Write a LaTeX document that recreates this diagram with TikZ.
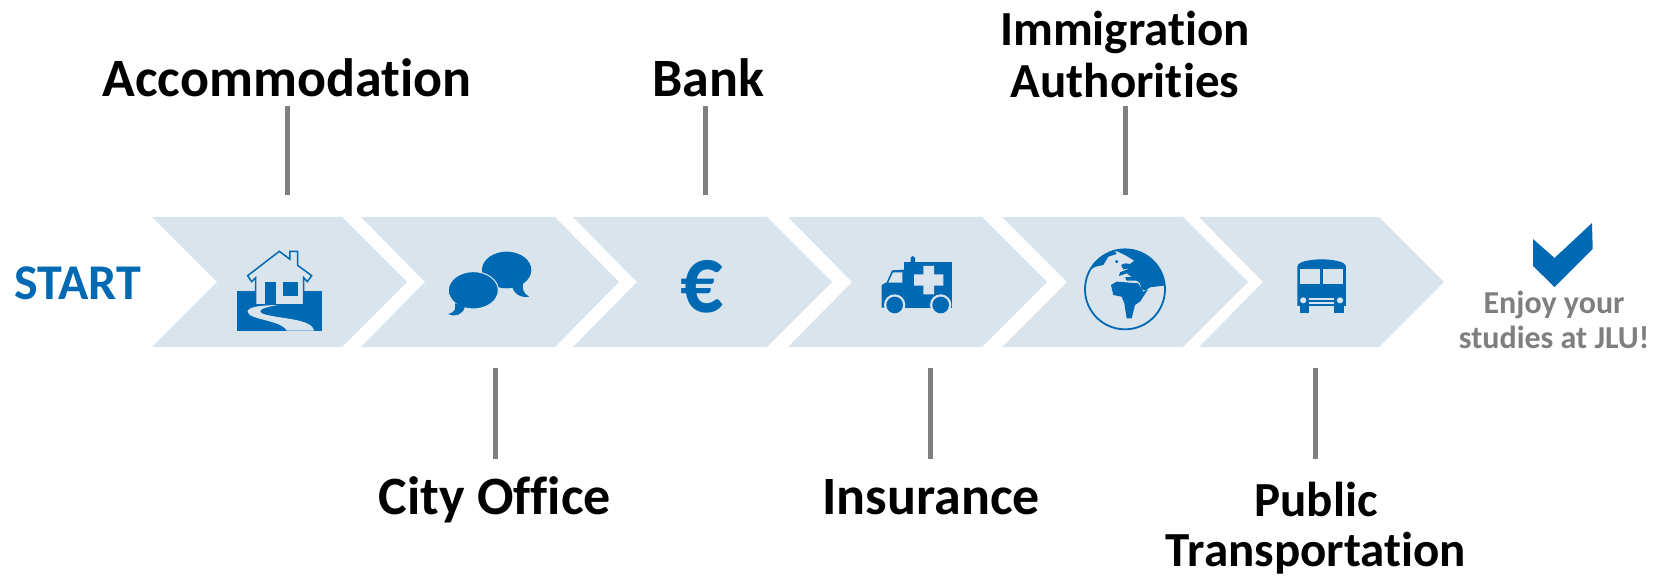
\documentclass[tikz,border=0pt]{standalone}
\usepackage{fontspec}
\setmainfont[Ligatures=NoCommon]{Carlito}
\definecolor{jlublue}{HTML}{0069B4}
\definecolor{arrowpale}{HTML}{DAE4EC}
\definecolor{stemgray}{HTML}{7F7F7F}
\tikzset{
  steplabel/.style={font=\fontsize{54}{52}\selectfont\bfseries,align=center,anchor=base,inner sep=0pt},
  twolabel/.style={font=\fontsize{49}{#1}\selectfont\bfseries,align=center,anchor=center,inner sep=0pt},
  stemline/.style={draw=stemgray,line width=5pt},
  bluefill/.style={fill=jlublue,draw=none},
  palefill/.style={fill=arrowpale,draw=none}
}
\begin{document}
\begin{tikzpicture}[x=1pt,y=-1pt]
\useasboundingbox (0,0) rectangle (1665,577);
% arrows
\foreach \xa/\xb/\xc/\xd in {152/217/342/407,361/425/555/619,573/637/767/832,788/852/982/1047,1002/1067/1183/1248,1199/1263/1379/1444}
  \fill[arrowpale] (\xa,217) -- (\xc,217) -- (\xd,282) -- (\xc,347) -- (\xa,347) -- (\xb,282) -- cycle;
% labels
\node[steplabel] (accom) at (287,97) {Accommodation};
\node[steplabel] (bank) at (708,97) {Bank};
\node[twolabel=52] (immig) at (1125,54) {Immigration\\Authorities};
\node[steplabel] (city) at (495,514) {City Office};
\node[steplabel] (insur) at (931,514) {Insurance};
\node[twolabel=50] (public) at (1316,528) {Public\\Transportation};
\node[font=\fontsize{50}{50}\selectfont\bfseries,text=jlublue,anchor=base,inner sep=0pt] (start) at (78,300) {START};
\node[font=\fontsize{32}{35}\selectfont\bfseries,text=stemgray,align=center,anchor=center,inner sep=0pt] (enjoy) at (1554,320) {Enjoy your\\studies at JLU!};
% stems
\foreach \name/\xs/\ya/\yb in {accom/287/106/195,bank/705/106/195,immig/1125/106/195,city/495/368/459,insur/930/368/459,public/1315/368/459}{
  \coordinate (\name-a) at (\xs,\ya);
  \coordinate (\name-b) at (\xs,\yb);
  \draw[stemline] (\name-a) -- (\name-b);
}
% house
\begin{scope}[shift={(225,240)},x=0.3333pt,y=-0.3333pt]
\fill[bluefill] (36,152) rectangle (292,272);
\draw[draw=jlublue,fill=arrowpale,line width=1.5pt,line join=miter] (68,107) -- (163,34) -- (195,58) -- (195,34) -- (218,34) -- (218,76) -- (260,107) -- (247,125) -- (236,113) -- (236,195) -- (92,195) -- (92,113) -- (80,125) -- cycle;
\fill[bluefill] (120,127) rectangle (154,195);
\fill[bluefill] (174,127) rectangle (219,168);
\fill[palefill] (158,195) .. controls (110,196) and (68,200) .. (68,215) .. controls (70,240) and (170,240) .. (185,272) -- (268,272) .. controls (258,235) and (170,238) .. (115,222) .. controls (95,212) and (105,205) .. (158,195) -- cycle;
\end{scope}
% speech bubbles
\begin{scope}[shift={(140,200)},x=0.3333pt,y=-0.3333pt]
\fill[bluefill] (1100,210) ellipse [x radius=74,y radius=55];
\fill[bluefill] (1115,255) .. controls (1120,280) and (1140,295) .. (1168,290) .. controls (1150,282) and (1145,265) .. (1150,245) -- cycle;
\draw[draw=arrowpale,fill=jlublue,line width=1pt] (1000,271) ellipse [x radius=75,y radius=56];
\fill[bluefill] (945,310) .. controls (948,325) and (945,338) .. (925,342) .. controls (945,352) and (968,345) .. (975,320) -- cycle;
\end{scope}
\node[font=\fontsize{96}{96}\selectfont\bfseries,text=jlublue,inner sep=0pt,xscale=0.88] (euro) at (702,287) {€};
% ambulance
\begin{scope}[shift={(870,245)},x=0.3333pt,y=-0.3333pt]
\fill[bluefill] (103,52) rectangle (245,188);
\fill[bluefill] (122,52) -- (122,38) -- (128,33) -- (135,38) -- (135,52) -- cycle;
\fill[palefill] (160,63) -- (192,63) -- (192,88) -- (220,88) -- (220,122) -- (192,122) -- (192,148) -- (160,148) -- (160,122) -- (132,122) -- (132,88) -- (160,88) -- cycle;
\fill[bluefill] (35,188) -- (35,120) -- (50,112) -- (66,76) -- (103,74) -- (103,188) -- cycle;
\fill[palefill] (55,113) -- (69,82) -- (97,82) -- (97,113) -- cycle;
\fill[palefill] (74,180) circle [radius=32];
\fill[palefill] (212,180) circle [radius=32];
\fill[bluefill] (74,180) circle [radius=25];
\fill[bluefill] (212,180) circle [radius=25];
\end{scope}
% globe
\begin{scope}[shift={(1075,240)},x=0.3333pt,y=-0.3333pt]
\begin{scope}
\clip (150,148) circle [radius=120];
\fill[bluefill] (40,92) -- (58,55) -- (115,28) -- (125,42) -- (100,50) -- (85,75) -- (62,80) -- cycle;
\fill[bluefill] (118,30) -- (180,22) -- (240,50) -- (280,110) -- (280,135) -- (225,142) -- (212,152) -- (200,148) -- (195,130) -- (180,118) -- (155,100) -- (132,108) -- (135,97) -- (165,85) -- (145,88) -- (138,75) -- (150,70) -- (165,72) -- (178,62) -- (150,45) -- cycle;
\fill[bluefill] (108,135) -- (125,125) -- (165,128) -- (190,130) -- (205,155) -- (218,150) -- (195,185) -- (180,195) -- (170,235) -- (155,235) -- (148,190) -- (140,170) -- (115,165) -- cycle;
\fill[bluefill] (125,65) circle [radius=5];
\fill[bluefill] (150,112) -- (180,110) -- (190,122) -- (155,122) -- cycle;
\end{scope}
\draw[draw=jlublue,line width=1.8pt] (150,148) circle [radius=120];
\end{scope}
% bus
\begin{scope}[shift={(1120,200)},x=0.3476pt,y=-0.3333pt]
\fill[bluefill] (517,318) rectangle (543,340);
\fill[bluefill] (617,318) rectangle (643,340);
\fill[bluefill] (510,318) -- (510,200) .. controls (510,182) and (560,178) .. (580,178) .. controls (600,178) and (650,182) .. (650,200) -- (650,318) -- cycle;
\fill[palefill] (518,207) rectangle (576,252);
\fill[palefill] (584,207) rectangle (642,252);
\fill[palefill] (527,301) circle [radius=9];
\fill[palefill] (633,301) circle [radius=9];
\fill[palefill] (543,293) rectangle (617,299);
\fill[palefill] (543,305) rectangle (617,311);
\end{scope}
% check mark
\fill[bluefill] (1533,239) -- (1554.5,258) -- (1592,223) -- (1592.7,249) -- (1554.5,287) -- (1533,266) -- cycle;
\end{tikzpicture}
\end{document}
